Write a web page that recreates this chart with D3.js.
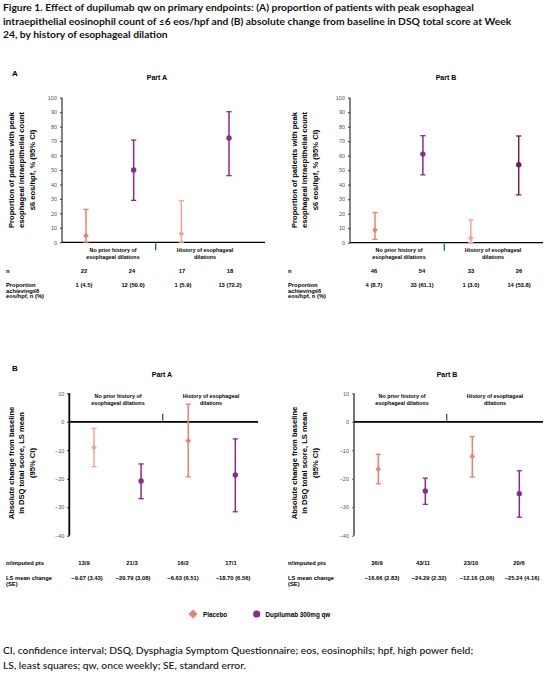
<!DOCTYPE html>
<html><head><meta charset="utf-8">
<script src="https://cdn.jsdelivr.net/npm/d3@7"></script>
<style>
body{margin:0;background:#fff;}
svg{display:block;}
text{font-family:"Liberation Sans",Arial,sans-serif;}
</style></head>
<body>
<script>
// ---------- DATA ----------
const groups = [["No prior history of","esophageal dilations"],["History of esophageal","dilations"]];
const arms = ["Placebo","Dupilumab 300mg qw"];
const cats = ["nph_pbo","nph_dup","h_pbo","h_dup"];
const armOf = [0,1,0,1];

const propTicks = [0,10,20,30,40,50,60,70,80,90,100];
const dsqTicks = [10,0,-10,-20,-30,-40];

const partA_prop   = [4.5, 50.0, 5.9, 72.2];
const partA_propLo = [0.1, 29.0, 0.1, 46.1];
const partA_propHi = [22.8, 70.7, 28.8, 90.3];
const partB_prop   = [8.7, 61.1, 3.0, 53.8];
const partB_propLo = [2.3, 46.8, 0.1, 33.0];
const partB_propHi = [20.7, 73.8, 15.7, 73.6];

const partA_dsq   = [-9.07, -20.79, -6.63, -18.70];
const partA_dsqLo = [-15.8, -27.0, -19.3, -31.6];
const partA_dsqHi = [-2.3, -14.8, 6.2, -6.0];
const partB_dsq   = [-16.66, -24.29, -12.16, -25.24];
const partB_dsqLo = [-21.8, -29.0, -19.4, -33.5];
const partB_dsqHi = [-11.4, -19.8, -5.2, -17.2];

const partA_n = ["22","24","17","18"];
const partA_achv = ["1 (4.5)","12 (50.0)","1 (5.9)","13 (72.2)"];
const partB_n = ["46","54","33","26"];
const partB_achv = ["4 (8.7)","33 (61.1)","1 (3.0)","14 (53.8)"];
const partA_imp = ["13/9","21/3","16/2","17/1"];
const partA_ls = ["\u22129.07 (3.43)","\u221220.79 (3.08)","\u22126.63 (6.51)","\u221218.70 (6.56)"];
const partB_imp = ["36/9","43/11","23/10","20/6"];
const partB_ls = ["\u221216.66 (2.83)","\u221224.29 (2.32)","\u221212.16 (3.06)","\u221225.24 (4.16)"];

const titleLines = [
 "Figure 1. Effect of dupilumab qw on primary endpoints: (A) proportion of patients with peak esophageal",
 "intraepithelial eosinophil count of \u22646 eos/hpf and (B) absolute change from baseline in DSQ total score at Week",
 "24, by history of esophageal dilation"];
const footLines = [
 "CI, confidence interval; DSQ, Dysphagia Symptom Questionnaire; eos, eosinophils; hpf, high power field;",
 "LS, least squares; qw, once weekly; SE, standard error."];

// ---------- STYLE ----------
const colPbo = "#F07F70", colPboL = "#F4A396", colDup = "#8C2A8A", colDupD = "#6E1B60";
const W = 554, H = 688;
const svg = d3.select("body").append("svg").attr("width",W).attr("height",H);
svg.append("rect").attr("width",W).attr("height",H).attr("fill","#fff");

const tfont = "Lato, 'Open Sans', sans-serif";
svg.selectAll(".title").data(titleLines).join("text")
  .attr("x",3).attr("y",(d,i)=>11+i*13.5)
  .style("font-family",tfont).style("font-weight","bold").style("font-size","10.3px").attr("fill","#111")
  .text(d=>d);
svg.selectAll(".foot").data(footLines).join("text")
  .attr("x",3).attr("y",(d,i)=>654+i*14.5)
  .style("font-family",tfont).style("font-weight","500").style("font-size","10.3px").attr("fill","#111")
  .text(d=>d);

svg.append("text").attr("x",12).attr("y",76).text("A").style("font-size","8px").style("font-weight","bold");
svg.append("text").attr("x",12).attr("y",371).text("B").style("font-size","8px").style("font-weight","bold");

function drawPanel(o){
  const g = svg.append("g");
  const y = d3.scaleLinear().domain(o.domain).range(o.range);
  const x = d3.scalePoint().domain(cats).range(o.xr);
  g.append("text").attr("x",o.titleX).attr("y",o.titleY).attr("text-anchor","middle")
    .style("font-size","7px").style("font-weight","bold").text(o.title);
  const ax = d3.axisLeft(y).tickValues(o.ticks).tickSize(2).tickPadding(3).tickFormat(d3.format("d"));
  const ag = g.append("g").attr("transform",`translate(${o.ax},0)`).call(ax);
  ag.selectAll("text").style("font-size","5.5px").attr("fill","#555");
  ag.selectAll("line").attr("stroke",o.axCol).attr("stroke-width",1);
  ag.select(".domain").attr("stroke",o.axCol).attr("stroke-width",o.axW).attr("d",`M0,${y(o.domain[0])}V${y(o.domain[1])}`);
  g.append("line").attr("x1",o.ax).attr("x2",o.xEnd).attr("y1",y(o.base)).attr("y2",y(o.base))
    .attr("stroke","#000").attr("stroke-width",o.baseW);
  g.append("line").attr("x1",o.divX).attr("x2",o.divX).attr("y1",y(o.base)+o.divD[0]).attr("y2",y(o.base)+o.divD[1])
    .attr("stroke","#1F5F80").attr("stroke-width",1.3);
  const yt = g.append("text").attr("transform",`translate(${o.ytX},${o.ytY}) rotate(-90)`).attr("text-anchor","middle")
    .style("font-size","7.6px").style("font-weight","bold");
  o.ytLines.forEach((l,i)=>yt.append("tspan").attr("x",0).attr("dy",i?10.4:0).text(l));
  o.gl.forEach((gx,gi)=>{
    const t = g.append("text").attr("text-anchor","middle").style("font-size","5.4px").style("font-weight","bold");
    groups[gi].forEach((l,i)=>t.append("tspan").attr("x",gx).attr("y",o.glY+i*6.8).text(l));
  });
  o.est.forEach((v,i)=>{
    const cx = x(cats[i]), c = o.cols[i];
    g.append("line").attr("x1",cx).attr("x2",cx).attr("y1",y(o.lo[i])).attr("y2",y(o.hi[i])).attr("stroke",c).attr("stroke-width",1.5);
    [o.lo[i],o.hi[i]].forEach(e=>g.append("line").attr("x1",cx-2.6).attr("x2",cx+2.6).attr("y1",y(e)).attr("y2",y(e)).attr("stroke",c).attr("stroke-width",1.3));
    if(armOf[i]===0){
      g.append("path").attr("d",d3.symbol(d3.symbolSquare,16)()).attr("transform",`translate(${cx},${y(v)}) rotate(45)`).attr("fill",c);
    } else {
      g.append("circle").attr("cx",cx).attr("cy",y(v)).attr("r",2.7).attr("fill",c);
    }
  });
  const tf = "5.8px";
  o.rows.forEach(r=>{
    const lt = g.append("text").style("font-size",tf).style("font-weight","bold");
    r.label.forEach((l,i)=>lt.append("tspan").attr("x",o.tblX).attr("y",r.y+i*5.6).text(l));
    g.selectAll(null).data(r.vals).join("text").attr("x",(d,i)=>r.xs[i]).attr("y",r.y).attr("text-anchor","middle")
      .style("font-size",tf).style("font-weight","bold").text(d=>d);
  });
}

const tAx = [84,132,182,230], tBx = [374,422,471,519];

drawPanel({title:"Part A",titleX:157,titleY:80,domain:[0,100],range:[242.3,97.7],ticks:propTicks,ax:62,axCol:"#333",axW:1.2,
  xr:[86,229],xEnd:265,base:0,baseW:1.2,divX:155.7,divD:[1,8],ytX:14,ytY:170,
  ytLines:["Proportion of patients with peak","esophageal intraepithelial count","\u22646 eos/hpf, % (95% CI)"],
  gl:[113,205],glY:252,est:partA_prop,lo:partA_propLo,hi:partA_propHi,cols:[colPbo,colDup,colPboL,colDup],tblX:6,
  rows:[{label:["n"],y:273,vals:partA_n,xs:tAx},{label:["Proportion","achieving\u22646","eos/hpf, n (%)"],y:287,vals:partA_achv,xs:[84,133,183,230]}]});

drawPanel({title:"Part B",titleX:446,titleY:80,domain:[0,100],range:[242.7,97.7],ticks:propTicks,ax:350,axCol:"#333",axW:1.2,
  xr:[375,518.7],xEnd:543,base:0,baseW:1.2,divX:444.3,divD:[1,8],ytX:297,ytY:170,
  ytLines:["Proportion of patients with peak","esophageal intraepithelial count","\u22646 eos/hpf, % (95% CI)"],
  gl:[399,493],glY:252,est:partB_prop,lo:partB_propLo,hi:partB_propHi,cols:[colPbo,colDup,colPboL,colDupD],tblX:288,
  rows:[{label:["n"],y:273,vals:partB_n,xs:tBx},{label:["Proportion","achieving\u22646","eos/hpf, n (%)"],y:287,vals:partB_achv,xs:[374,422,471,519]}]});

drawPanel({title:"Part A",titleX:162,titleY:377,domain:[10,-40],range:[393.3,535.7],ticks:dsqTicks,ax:69.3,axCol:"#000",axW:1.8,
  xr:[94,235.3],xEnd:258,base:0,baseW:1.8,divX:162.7,divD:[-8,-1],ytX:14,ytY:463,
  ytLines:["Absolute change from baseline","in DSQ total score, LS mean","(95% CI)"],
  gl:[118,211],glY:398,est:partA_dsq,lo:partA_dsqLo,hi:partA_dsqHi,cols:[colPboL,colDup,colPbo,colDup],tblX:6,
  rows:[{label:["n/imputed pts"],y:565,vals:partA_imp,xs:[84,132,183,231]},{label:["LS mean change","(SE)"],y:580,vals:partA_ls,xs:[87,133,183,233]}]});

drawPanel({title:"Part B",titleX:447,titleY:377,domain:[10,-40],range:[393.3,535.7],ticks:dsqTicks,ax:354,axCol:"#666",axW:1.8,
  xr:[378.3,519.3],xEnd:543,base:0,baseW:1.8,divX:446.7,divD:[-8,-1],ytX:297,ytY:463,
  ytLines:["Absolute change from baseline","in DSQ total score, LS mean","(95% CI)"],
  gl:[402,495],glY:398,est:partB_dsq,lo:partB_dsqLo,hi:partB_dsqHi,cols:[colPbo,colDup,colPbo,colDup],tblX:288,
  rows:[{label:["n/imputed pts"],y:565,vals:partB_imp,xs:[377,423,471,519]},{label:["LS mean change","(SE)"],y:580,vals:partB_ls,xs:[382,429,477,522]}]});

const lg = svg.append("g");
lg.append("path").attr("d",d3.symbol(d3.symbolSquare,40)()).attr("transform","translate(193,614) rotate(45)").attr("fill",colPbo);
lg.append("text").attr("x",203).attr("y",616.5).text(arms[0]).style("font-size","6.3px").style("font-weight","bold");
lg.append("circle").attr("cx",256.7).attr("cy",614).attr("r",3.6).attr("fill",colDup);
lg.append("text").attr("x",265.5).attr("y",616.5).text(arms[1]).style("font-size","6.3px").style("font-weight","bold");
</script>
</body></html>
